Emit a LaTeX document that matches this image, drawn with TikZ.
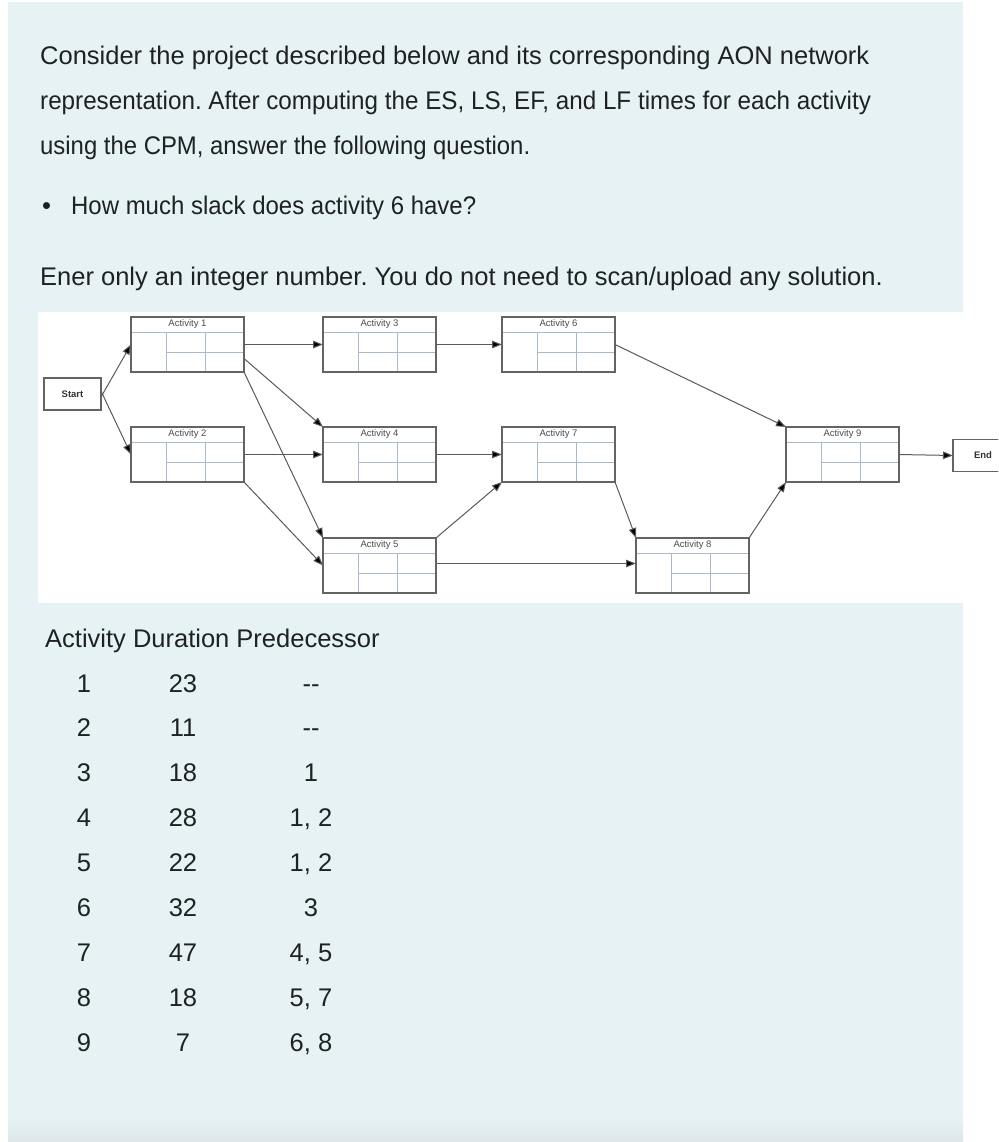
\documentclass[tikz,border=0pt]{standalone}
\usepackage{fontspec}
\setmainfont{Liberation Sans}
\usetikzlibrary{arrows.meta}
\definecolor{bgblue}{RGB}{230,242,244}
\definecolor{txt}{RGB}{30,34,36}
\definecolor{boxline}{RGB}{100,100,100}
\definecolor{innerline}{RGB}{170,185,200}
\definecolor{conn}{RGB}{90,90,90}
\tikzset{
  actnode/.style={draw=boxline, line width=1.4pt, fill=white, inner sep=0pt, outer sep=0pt,
    minimum width=113pt, minimum height=55pt},
  termnode/.style={draw=boxline, line width=1.4pt, fill=white, inner sep=0pt, outer sep=0pt,
    minimum width=57pt, minimum height=32pt, font=\fontsize{9.5}{10}\selectfont\bfseries, text=black!80},
  innerln/.style={draw=innerline, line width=0.7pt},
  acttitle/.style={font=\fontsize{9.5}{10}\selectfont, text=black!70, inner sep=0pt},
  conn/.style={draw=conn, line width=1pt, -{Triangle[length=10pt,width=7.5pt,fill=black]}},
  bodytxt/.style={font=\fontsize{25.5}{30}\selectfont\frenchspacing, text=txt, inner sep=0pt, anchor=base west},
  celltxt/.style={font=\fontsize{25.5}{30}\selectfont, text=txt, inner sep=0pt, anchor=base},
}
\newcommand\actbox[4]{%
  \node[actnode, anchor=north west] (#1) at (#2,#3) {};
  \draw[innerln] ([yshift=-15pt]#1.north west) -- ([yshift=-15pt]#1.north east);
  \draw[innerln] ([xshift=35pt,yshift=-15pt]#1.north west) -- ([xshift=35pt]#1.south west);
  \draw[innerln] ([xshift=74pt,yshift=-15pt]#1.north west) -- ([xshift=74pt]#1.south west);
  \draw[innerln] ([xshift=35pt,yshift=-35pt]#1.north west) -- ([yshift=-35pt]#1.north east);
  \draw[draw=boxline, line width=1.4pt] (#1.north west) rectangle (#1.south east);
  \node[acttitle] at ([yshift=-7.5pt]#1.north) {#4};
}
\newcommand\dd{\mbox{-}\mbox{-}}
\begin{document}
\begin{tikzpicture}[x=1pt,y=-1pt]
\useasboundingbox (0,0) rectangle (998,1142);
\fill[white] (0,0) rectangle (998,1142);
\fill[bgblue] (8,2) rectangle (963,1142);
\shade[top color=bgblue, bottom color={rgb,255:red,221;green,230;blue,232}] (8,1118) rectangle (963,1142);
\fill[white] (38,312) rectangle (998,603);
\begin{scope}
\clip (38,312) rectangle (998,603);
% network
\node[termnode] (start) at (72.5,394) {Start};
\actbox{a1}{131}{317}{Activity 1}
\actbox{a2}{131}{427}{Activity 2}
\actbox{a3}{323}{317}{Activity 3}
\actbox{a4}{323}{427}{Activity 4}
\actbox{a5}{323}{538}{Activity 5}
\actbox{a6}{502}{317}{Activity 6}
\actbox{a7}{502}{427}{Activity 7}
\actbox{a8}{636}{538}{Activity 8}
\actbox{a9}{786}{427}{Activity 9}
\node[termnode, anchor=west, text width=40pt, align=left, minimum width=60pt] (end) at (953,455.5) {\hspace*{11pt}End};
\draw[conn] ([yshift=-3pt]start.east) -- (a1.west);
\draw[conn] ([yshift=3pt]start.east) -- (a2.west);
\draw[conn] (a1.east) -- (a3.west);
\draw[conn] (a3.east) -- (a6.west);
\draw[conn] (a6.east) -- (a9.north west);
\draw[conn] ([yshift=-14pt]a1.east) -- (a4.north west);
\draw[conn] (a1.south east) -- (a5.north west);
\draw[conn] (a2.east) -- (a4.west);
\draw[conn] (a2.south east) -- (a5.west);
\draw[conn] (a4.east) -- (a7.west);
\draw[conn] (a5.north east) -- (a7.south west);
\draw[conn] ([yshift=2pt]a5.east) -- ([yshift=2pt]a8.west);
\draw[conn] (a7.south east) -- (a8.north west);
\draw[conn] (a8.north east) -- (a9.south west);
\draw[conn] (a9.east) -- (end.west);
\end{scope}
% question text
\node[bodytxt] (l1) at (40,65) {Consider the project described below and its corresponding AON network};
\node[bodytxt, xscale=0.95] (l2) at (40,110) {representation. After computing the ES, LS, EF, and LF times for each activity};
\node[bodytxt, xscale=0.937] (l3) at (40,155) {using the CPM, answer the following question.};
\node[bodytxt] (bul) at (42,214) {\textbullet};
\node[bodytxt, xscale=0.94] (q) at (71,214) {How much slack does activity 6 have?};
\node[bodytxt] (l4) at (40,285) {Ener only an integer number. You do not need to scan/upload any solution.};
% table
\node[bodytxt] (hdr) at (45,647) {Activity Duration Predecessor};
\foreach \a/\d/\p [count=\i from 0] in {1/23/\dd,2/11/\dd,3/18/1,4/28/{1, 2},5/22/{1, 2},6/32/3,7/47/{4, 5},8/18/{5, 7},9/7/{6, 8}} {
  \node[celltxt] (c1-\a) at (84,692+44.9*\i) {\a};
  \node[celltxt] (c2-\a) at (183,692+44.9*\i) {\d};
  \node[celltxt] (c3-\a) at (311,692+44.9*\i) {\p};
}
\end{tikzpicture}
\end{document}
